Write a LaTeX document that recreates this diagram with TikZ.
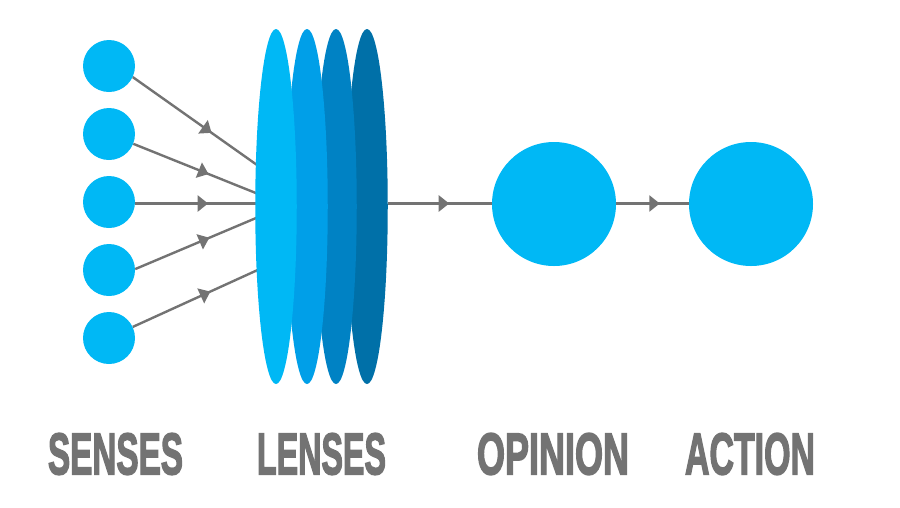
\documentclass[tikz,border=0pt]{standalone}
\usepackage{graphicx}
\usepackage{fontspec}
\newfontfamily\labfont[FakeBold=3]{Liberation Sans Bold}
\usetikzlibrary{shapes.geometric,arrows.meta,decorations.markings}
\pgfdeclarelayer{behind}
\pgfsetlayers{behind,main}
\definecolor{cyanA}{HTML}{00B8F5}
\definecolor{blueB}{HTML}{009FE8}
\definecolor{blueC}{HTML}{0082C4}
\definecolor{blueD}{HTML}{0070A8}
\definecolor{greyL}{HTML}{737373}
\tikzset{
  sense/.style={circle,fill=cyanA,draw=none,minimum size=52pt,inner sep=0pt},
  big/.style={circle,fill=cyanA,draw=none,minimum size=124pt,inner sep=0pt},
  lens/.style={ellipse,draw=none,minimum width=41.5pt,minimum height=355pt,inner sep=0pt},
  link/.style={draw=greyL,line width=3pt,postaction={decorate},
    decoration={markings,mark=at position #1 with {\arrow{Triangle[length=10.5pt,width=16pt,fill=greyL,color=greyL]}}}},
  thin link/.style={link=#1,line width=2.4pt},
  lab/.style={inner sep=0pt,text=greyL,font=\labfont}
}
\begin{document}
\begin{tikzpicture}[x=1pt,y=-1pt]
\useasboundingbox (0,0) rectangle (900,507);
\node[lens,fill=blueD] (l4) at (367,206.5) {};
\node[lens,fill=blueC] (l3) at (336,206.5) {};
\node[lens,fill=blueB] (l2) at (307,206.5) {};
\node[lens,fill=cyanA] (l1) at (276,206.5) {};
\node[sense] (s1) at (109,66) {};
\node[sense] (s2) at (109,134) {};
\node[sense] (s3) at (109,202) {};
\node[sense] (s4) at (109,270) {};
\node[sense] (s5) at (109,338) {};
\node[big] (op) at (554,204) {};
\node[big] (ac) at (751,204) {};
\coordinate (e1) at (262,168.5);
\coordinate (e2) at (262,195.5);
\coordinate (e3) at (262,203.5);
\coordinate (e4) at (262,215.5);
\coordinate (e5) at (262,268);
\begin{pgfonlayer}{behind}
\draw[thin link=0.61] (s1.-25) -- (e1);
\draw[thin link=0.585] (s2.-22) -- (e2);
\draw[link=0.575] (s3.east |- e3) -- (e3);
\draw[thin link=0.585] (s4.2) -- (e4);
\draw[thin link=0.6] (s5.25) -- (e5);
\draw[link=0.59] (l4.east |- e3) -- (op.west |- e3);
\draw[link=0.6] (op.east |- e3) -- (ac.west |- e3);
\end{pgfonlayer}
\node[lab] (t1) at (115.5,454) {\resizebox{135pt}{41pt}{SENSES}};
\node[lab] (t2) at (321.5,454) {\resizebox{129pt}{41pt}{LENSES}};
\node[lab] (t3) at (553,454) {\resizebox{152pt}{41pt}{OPINION}};
\node[lab] (t4) at (750,454) {\resizebox{130pt}{41pt}{ACTION}};
\end{tikzpicture}
\end{document}
